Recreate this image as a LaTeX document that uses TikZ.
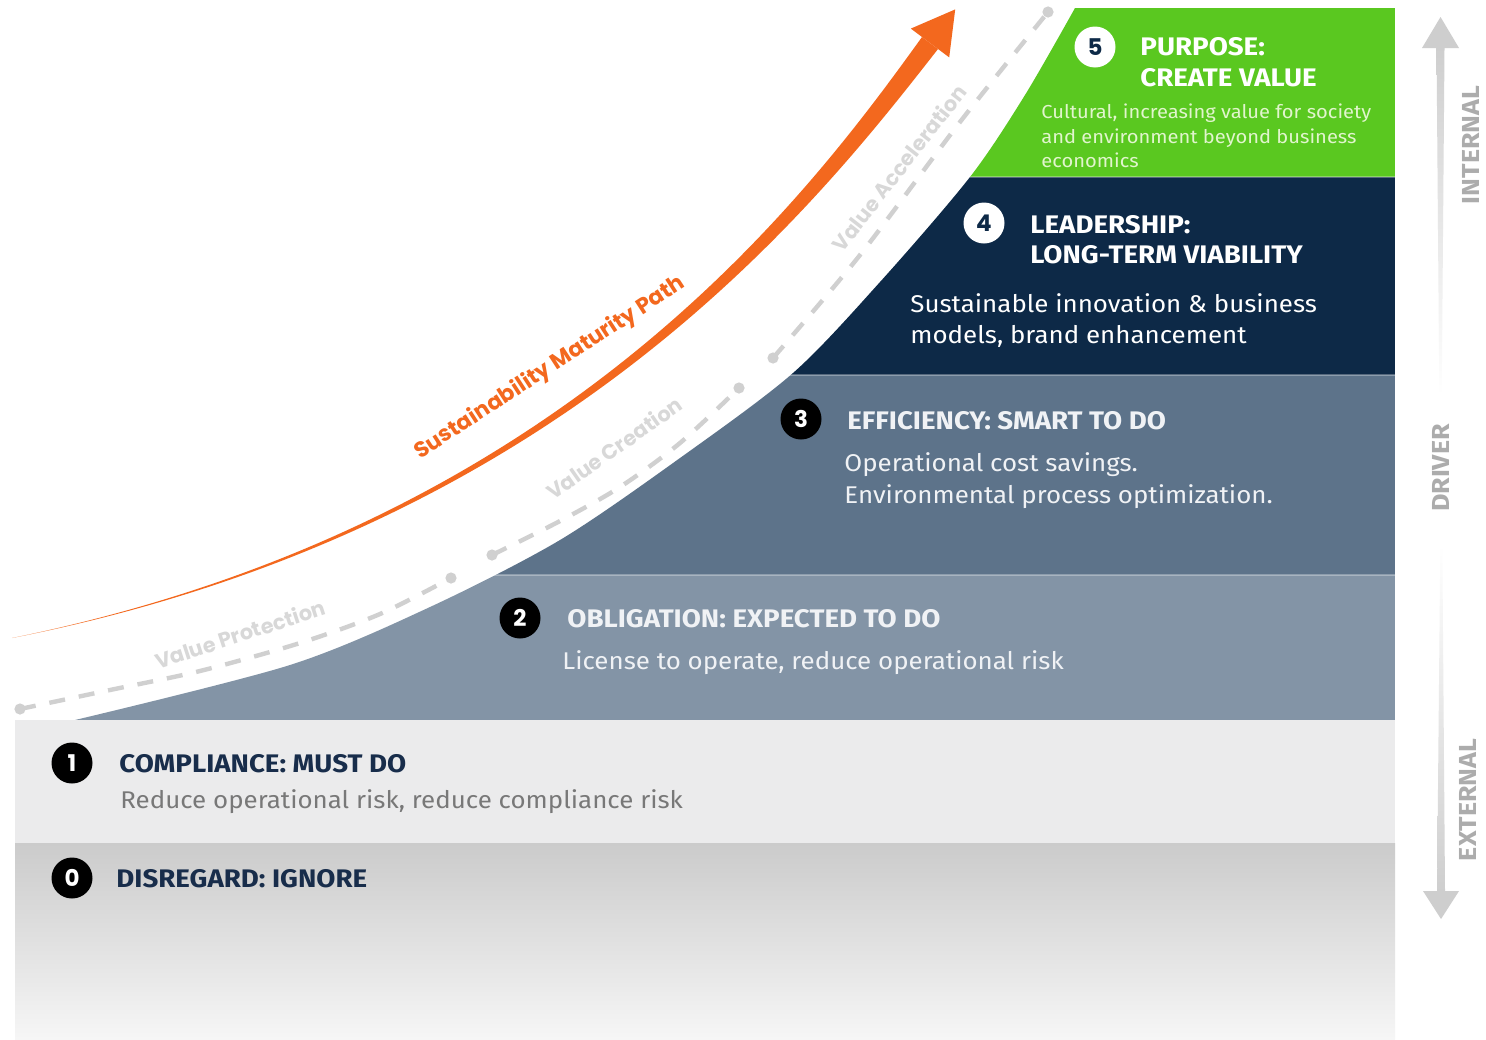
\documentclass[tikz,border=0pt]{standalone}
\usepackage{fontspec}
\setmainfont{Fira Sans}
\newfontfamily\pop{Poppins}
\newfontfamily\headf{Fira Sans}[FakeStretch=1.09]
\newfontfamily\descf{Fira Sans}[FakeStretch=1.07]
\definecolor{bfive}{RGB}{90,200,32}
\definecolor{bfour}{RGB}{13,41,71}
\definecolor{bthree}{RGB}{93,115,138}
\definecolor{btwo}{RGB}{131,148,166}
\definecolor{bone}{RGB}{235,235,236}
\definecolor{bzerotop}{RGB}{203,203,203}
\definecolor{bzerobot}{RGB}{246,246,246}
\definecolor{orng}{RGB}{243,104,30}
\definecolor{dashgrey}{RGB}{208,208,208}
\definecolor{vtxt}{RGB}{216,216,216}
\definecolor{navytxt}{RGB}{24,45,75}
\definecolor{greytxt}{RGB}{120,120,120}
\definecolor{paletxt}{RGB}{225,245,205}
\definecolor{lighttxt}{RGB}{240,242,245}
\definecolor{sidegrey}{RGB}{206,206,206}
\definecolor{sidetxt}{RGB}{172,172,172}
\begin{document}
\begin{tikzpicture}[x=0.5pt,y=-0.5pt,
  head/.style={anchor=base west, inner sep=0pt, font=\headf\bfseries\fontsize{12.7}{15}\selectfont},
  desc/.style={anchor=base west, inner sep=0pt, font=\descf\fontsize{12.1}{15}\selectfont},
  smalldesc/.style={anchor=base west, inner sep=0pt, text=paletxt, font=\descf\fontsize{9.4}{11}\selectfont},
  numblack/.style={circle, fill=black, text=white, minimum size=20.5pt, inner sep=0pt, font=\pop\bfseries\fontsize{11.5}{11.5}\selectfont},
  numwhite/.style={numblack, fill=white, text=bfour},
  vlabel/.style={text=vtxt, inner sep=0pt, font=\pop\bfseries\fontsize{10.4}{10.4}\selectfont},
  sidelabel/.style={text=sidetxt, inner sep=0pt, rotate=90, font=\headf\bfseries\fontsize{12.3}{12.3}\selectfont},
  dashpath/.style={draw=dashgrey, line width=2.2pt, dash pattern=on 8pt off 7pt},
  dashdot/.style={fill=dashgrey},
  sidearrow/.style={fill=sidegrey},
  sep/.style={draw=white, draw opacity=0.3, line width=0.8pt}
]
\useasboundingbox (0,0) rectangle (1486,1039);
\fill[white] (0,0) rectangle (1486,1039);

% band 0 and band 1
\shade[top color=bzerotop, bottom color=bzerobot] (15,843) rectangle (1395,1039);
\fill[bone] (15,720) rectangle (1395,843);

% curved staircase region
\begin{scope}
\clip plot[smooth] coordinates {(75,720) (290,665) (430,607) (560,540) (680,458) (793,373) (880,282) (970,177) (1025,95) (1075,8)} -- (1395,8) -- (1395,720) -- cycle;
\fill[btwo] (0,575) rectangle (1395,720);
\fill[bthree] (0,375) rectangle (1395,575);
\fill[bfour] (0,177) rectangle (1395,375);
\fill[bfive] (0,0) rectangle (1395,177);
\draw[sep] (0,177) -- (1395,177);
\draw[sep] (0,375) -- (1395,375);
\draw[sep] (0,575) -- (1395,575);
\end{scope}

% dashed value paths
\draw[dashpath] plot[smooth] coordinates {(20,709) (110,690) (200,671) (300,643) (380,614) (451,578)};
\fill[dashdot] (20,709) circle[radius=2.8pt];
\fill[dashdot] (451,578) circle[radius=2.8pt];
\draw[dashpath] plot[smooth] coordinates {(492,555) (560,521) (620,487) (680,443) (739,388)};
\fill[dashdot] (492,555) circle[radius=2.8pt];
\fill[dashdot] (739,388) circle[radius=2.8pt];
\draw[dashpath] plot[smooth] coordinates {(773,358) (860,255) (960,122) (1048,12)};
\fill[dashdot] (773,358) circle[radius=2.8pt];
\fill[dashdot] (1048,12) circle[radius=2.8pt];

\node[vlabel, rotate=18] (vp) at (240,634) {Value Protection};
\node[vlabel, rotate=35] (vc) at (614,448) {Value Creation};
\node[vlabel, rotate=52] (va) at (899,168) {Value Acceleration};

% orange maturity arrow (tapered shaft + head)
\fill[orng] (12,638) .. controls (561.6,526) and (805.2,199.4) .. (922,37)
  -- (938,49) .. controls (814.8,206.6) and (562.4,530) .. (12,638) -- cycle;
\fill[orng] (910.8,28.6) -- (955.2,9.4) -- (949.2,57.4) -- cycle;
\node[text=orng, inner sep=0pt, rotate=33, font=\pop\bfseries\fontsize{11}{11}\selectfont] (smp) at (550,368) {Sustainability Maturity Path};

% band 5
\node[numwhite] (c5) at (1095,47) {5};
\node[head, text=white] (h5a) at (1140,55) {PURPOSE:};
\node[head, text=white] (h5b) at (1140,86) {CREATE VALUE};
\node[smalldesc] (d5a) at (1041,118) {Cultural, increasing value for society};
\node[smalldesc] (d5b) at (1041,143) {and environment beyond business};
\node[smalldesc] (d5c) at (1041,167) {economics};

% band 4
\node[numwhite] (c4) at (984,223) {4};
\node[head, text=white] (h4a) at (1030,233) {LEADERSHIP:};
\node[head, text=white] (h4b) at (1030,263) {LONG-TERM VIABILITY};
\node[desc, text=white] (d4a) at (910,312) {Sustainable innovation \& business};
\node[desc, text=white] (d4b) at (910,343) {models, brand enhancement};

% band 3
\node[numblack] (c3) at (801,419) {3};
\node[head, text=lighttxt] (h3) at (847,429) {EFFICIENCY: SMART TO DO};
\node[desc, text=lighttxt] (d3a) at (844,471) {Operational cost savings.};
\node[desc, text=lighttxt] (d3b) at (844,503) {Environmental process optimization.};

% band 2
\node[numblack] (c2) at (520,618) {2};
\node[head, text=lighttxt] (h2) at (567,627) {OBLIGATION: EXPECTED TO DO};
\node[desc, text=lighttxt] (d2) at (562,669) {License to operate, reduce operational risk};

% band 1
\node[numblack] (c1) at (72,763) {1};
\node[head, text=navytxt] (h1) at (119,772) {COMPLIANCE: MUST DO};
\node[desc, text=greytxt] (d1) at (120,808) {Reduce operational risk, reduce compliance risk};

% band 0
\node[numblack] (c0) at (72,878) {0};
\node[head, text=navytxt] (h0) at (116,887) {DISREGARD: IGNORE};

% side driver arrows
\shade[top color=sidegrey, bottom color=white] (1439.3,395) -- (1436.5,47) -- (1444.5,47) -- (1441.7,395) -- cycle;
\fill[sidearrow] (1422,48) -- (1440.5,17) -- (1459,48) -- cycle;
\shade[top color=white, bottom color=sidegrey] (1440.3,545) -- (1437,892) -- (1445,892) -- (1442.3,545) -- cycle;
\fill[sidearrow] (1423,891) -- (1441,919) -- (1459,891) -- cycle;
\node[sidelabel] (lint) at (1471,145) {INTERNAL};
\node[sidelabel] (ldrv) at (1441,468) {DRIVER};
\node[sidelabel] (lext) at (1468,800) {EXTERNAL};
\end{tikzpicture}
\end{document}
